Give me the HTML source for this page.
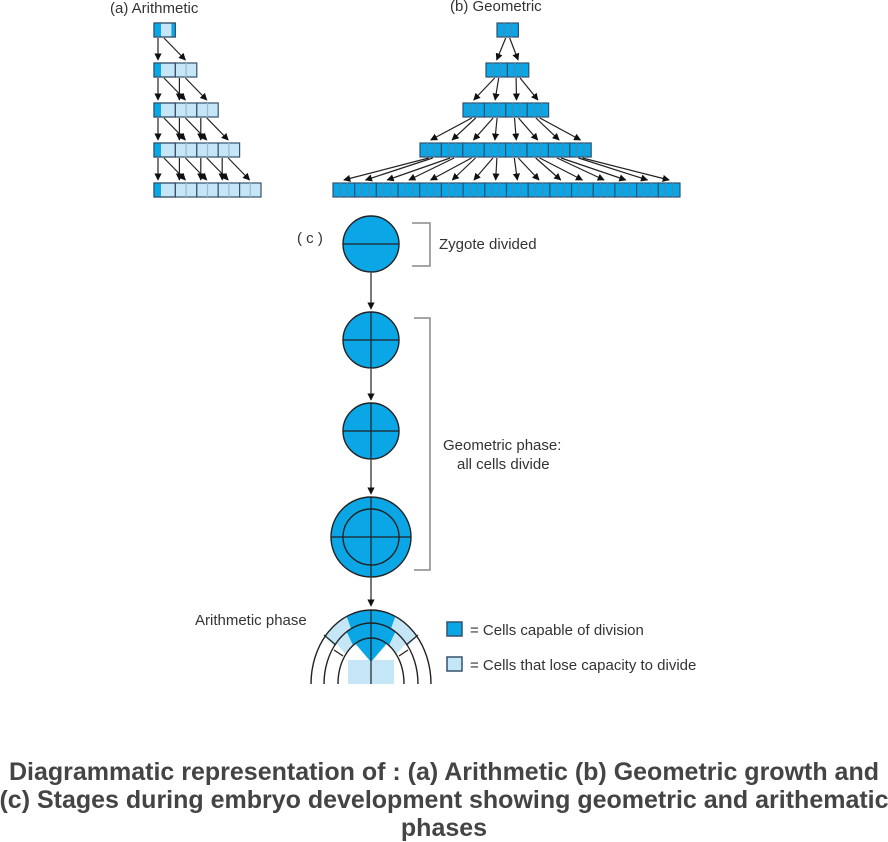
<!DOCTYPE html>
<html><head><meta charset="utf-8">
<style>
body{margin:0;background:#fff;width:888px;height:840px;overflow:hidden;font-family:"Liberation Sans",sans-serif;}
.t{position:absolute;font-size:15px;color:#333;white-space:nowrap}
.cap{position:absolute;left:-20px;width:928px;text-align:center;font-weight:bold;font-size:25px;color:#444;line-height:28px;top:758px;white-space:nowrap}
</style></head><body>
<svg id="s" width="888" height="840" style="position:absolute;left:0;top:0">
<defs><marker id="a" viewBox="0 0 10 10" refX="9" refY="5" markerWidth="6" markerHeight="6" orient="auto"><path d="M0,0L10,5L0,10z" fill="#111"/></marker>
<clipPath id="c1"><ellipse cx="371" cy="684" rx="60" ry="74"/></clipPath>
<clipPath id="c2"><ellipse cx="371" cy="684" rx="47" ry="61"/></clipPath>
<clipPath id="c3"><ellipse cx="371" cy="684" rx="33" ry="46"/></clipPath>
<clipPath id="cb"><rect x="300" y="600" width="150" height="84"/></clipPath>
</defs>
<g id="g"></g>
</svg>
<div class="t" style="left:110px;top:0px">(a) Arithmetic</div>
<div class="t" style="left:450px;top:-2px">(b) Geometric</div>
<div class="t" style="left:297px;top:230px">( c )</div>
<div class="t" style="left:439px;top:236px">Zygote divided</div>
<div class="t" style="left:443px;top:437px">Geometric phase:</div>
<div class="t" style="left:457px;top:456px">all cells divide</div>
<div class="t" style="left:195px;top:612px">Arithmetic phase</div>
<div class="t" style="left:470px;top:622px">= Cells capable of division</div>
<div class="t" style="left:470px;top:657px">= Cells that lose capacity to divide</div>
<div class="cap">Diagrammatic representation of : (a) Arithmetic (b) Geometric growth and<br>(c) Stages during embryo development showing geometric and arithematic<br>phases</div>
<script>
var h='';var D='#0aa6e6',L='#c4e6f7',S='#35506a';
function r(x,y,w,hh,f){h+='<rect x="'+x+'" y="'+y+'" width="'+w+'" height="'+hh+'" fill="'+f+'" stroke="'+S+'" stroke-width="1.2"/>';}
function l(x1,y1,x2,y2,m,c){h+='<line x1="'+x1+'" y1="'+y1+'" x2="'+x2+'" y2="'+y2+'" stroke="'+(c||'#222')+'" stroke-width="1.2"'+(m?' marker-end="url(#a)"':'')+'/>';}
var ys=[23,63,103,143,183],cw=21.4,H=14;
for(var i=0;i<5;i++){var y=ys[i];var n=i+1;
 for(var k=0;k<n;k++){var x=154+k*cw;
  if(k==0){r(x,y,cw,H,L);h+='<rect x="'+x+'" y="'+y+'" width="7" height="'+H+'" fill="'+D+'"/>';if(i==0)h+='<rect x="'+(x+cw-4)+'" y="'+y+'" width="4" height="'+H+'" fill="'+D+'"/>';r(x,y,cw,H,'none');}
  else{r(x,y,cw,H,L);l(x+cw/2,y,x+cw/2,y+H,0,'#9bc');}
  if(i<4){l(x+4,y+H+1,x+4,ys[i+1]-3,1);l(x+10,y+H+1,x+cw+10,ys[i+1]-3,1);}
 }
}
var starts=[497,486,463,420,333];
for(var i=0;i<5;i++){var n=Math.pow(2,i),y=ys[i],w=(i==4?347/16:cw);
 for(var k=0;k<n;k++){var x=starts[i]+k*w;r(x,y,w,H,D);l(x+w/3,y,x+w/3,y+H,0,'#4a8ab0');l(x+2*w/3,y,x+2*w/3,y+H,0,'#4a8ab0');
  if(i<4){var nw=(i==3?347/16:cw);var cx=x+w/2;for(var j=0;j<2;j++){var tx=starts[i+1]+(2*k+j)*nw+nw/2;l(cx+(j?2:-2),y+H+1,tx,ys[i+1]-3,1);}}
 }
}
function c(cy,R,cross){h+='<circle cx="371" cy="'+cy+'" r="'+R+'" fill="'+D+'" stroke="#222" stroke-width="1.4"/>';l(343,cy,399,cy);if(cross)l(371,cy-R,371,cy+R);}
c(244,28,0);c(340,28,1);c(431,28,1);
h+='<circle cx="371" cy="537" r="40" fill="'+D+'" stroke="#222" stroke-width="1.4"/><circle cx="371" cy="537" r="28" fill="none" stroke="#222" stroke-width="1.4"/>';
l(331,537,411,537);l(371,497,371,577);
l(371,273,371,309,1);l(371,369,371,400,1);l(371,460,371,494,1);l(371,578,371,606,1);
h+='<path d="M412,223H430V266H412M414,318H430V570H414" fill="none" stroke="#888" stroke-width="1.5"/>';
h+='<g clip-path="url(#cb)">';
function ring(id,rx,ry,lp,dp){
 h+='<g clip-path="url(#'+id+')"><rect x="300" y="580" width="150" height="110" fill="#fff"/>'+
 '<polygon points="371,684 '+lp+'" fill="'+L+'"/><polygon points="371,684 '+dp+'" fill="'+D+'"/></g>'+
 '<ellipse cx="371" cy="684" rx="'+rx+'" ry="'+ry+'" fill="none" stroke="#222" stroke-width="1.4"/>';
}
ring('c1',60,74,'275,586 467,586','335,584 407,584');
ring('c2',47,61,'296,596 446,596','330,596 412,596');
h+='<g clip-path="url(#c3)"><rect x="300" y="580" width="150" height="110" fill="#fff"/><rect x="348" y="660" width="46" height="30" fill="'+L+'"/><polygon points="371,662 335,620 407,620" fill="'+D+'"/></g><ellipse cx="371" cy="684" rx="33" ry="46" fill="none" stroke="#222" stroke-width="1.4"/>';
l(371,610,371,684);l(324,635,336,645);l(418,635,406,645);l(334,650,343,656);l(408,650,399,656);
h+='</g>';
h+='<rect x="447" y="622" width="15" height="14" fill="'+D+'" stroke="'+S+'" stroke-width="1.5"/><rect x="447" y="657" width="15" height="14" fill="'+L+'" stroke="'+S+'" stroke-width="1.5"/>';
document.getElementById('g').innerHTML=h;
</script>
</body></html>
